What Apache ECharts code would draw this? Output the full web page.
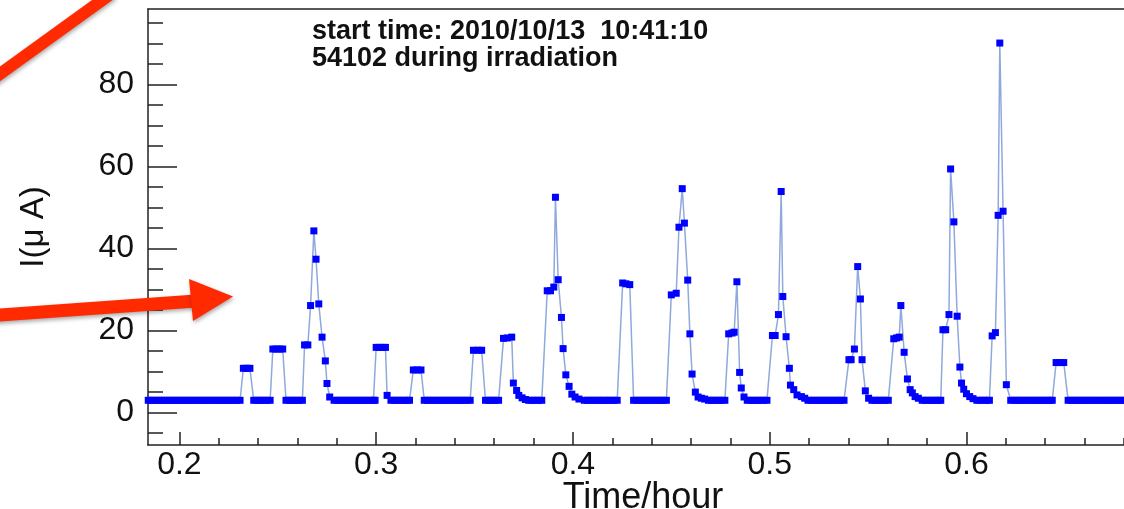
<!DOCTYPE html>
<html>
<head>
<meta charset="utf-8">
<script src="https://cdn.jsdelivr.net/npm/echarts@6.0.0/dist/echarts.min.js"></script>
<style>
  html, body { margin: 0; padding: 0; background: #fff; }
  #main { width: 1124px; height: 509px; }
</style>
</head>
<body>
<div id="main"></div>
<script>
// samples: [time in seconds, current in uA]
const samples = [
  // baseline
  [663,3],[669,3],[675,3],[681,3],[687,3],[693,3],[699,3],[705,3],[711,3],[717,3],
  [723,3],[729,3],[735,3],[741,3],[747,3],[753,3],[759,3],[765,3],[771,3],[777,3],
  [783,3],[789,3],[795,3],[801,3],[807,3],[813,3],[819,3],[825,3],[831,3],
  [837,10.8],[843,10.8],[849,10.8],
  [856,3],[862,3],[868,3],[874,3],[880,3],[886,3],
  [891,15.5],[897,15.5],[903,15.5],[909,15.5],
  [915,3],[921,3],[927,3],[933,3],[939,3],[945,3],
  [949,16.5],[955,16.5],[960,26.1],[966,44.3],[970,37.4],[975,26.5],[981,18.4],[987,12.6],[990,7.1],[995,3.8],
  [1003,3],[1009,3],[1015,3],[1021,3],[1027,3],[1033,3],[1039,3],[1045,3],[1051,3],[1057,3],
  [1063,3],[1069,3],[1075,3],[1078,3],
  [1080,15.9],[1086,15.9],[1092,15.9],[1097,15.9],[1100,4.2],
  [1107,3],[1113,3],[1119,3],[1125,3],[1131,3],[1137,3],[1141,3],
  [1148,10.4],[1155,10.4],[1162,10.4],
  [1168,3],[1174,3],[1180,3],[1186,3],[1192,3],[1198,3],[1204,3],[1210,3],[1216,3],[1222,3],
  [1228,3],[1234,3],[1240,3],[1246,3],[1252,3],
  [1258,15.2],[1266,15.2],[1273,15.2],
  [1280,3],[1286,3],[1292,3],[1298,3],[1304,3],
  [1313,18.1],[1320,18.2],[1328,18.4],[1331,7.2],[1337,5.4],[1341,4.2],[1347,3.6],[1353,3.2],
  [1359,3],[1365,3],[1371,3],[1377,3],[1383,3],
  [1393,29.7],[1399,29.7],[1405,30.6],[1408,52.5],[1413,32.4],[1419,23.2],[1422,15.6],[1427,9.2],
  [1433,6.4],[1438,4.5],[1444,3.8],[1451,3.3],
  [1461,3],[1467,3],[1473,3],[1479,3],[1485,3],[1491,3],[1497,3],[1503,3],[1509,3],[1515,3],[1521,3],
  [1531,31.6],[1537,31.4],[1544,31.2],
  [1551,3],[1557,3],[1563,3],[1569,3],[1575,3],[1581,3],[1587,3],[1593,3],[1599,3],[1605,3],[1611,3],
  [1620,28.7],[1629,29.1],[1634,45.2],[1640,54.6],[1644,46.2],[1650,32.3],[1654,19.2],[1658,9.4],
  [1664,5.0],[1669,3.8],[1675,3.5],[1681,3.3],
  [1688,3],[1694,3],[1700,3],[1706,3],[1712,3],[1718,3],
  [1725,19.2],[1731,19.4],[1735,19.6],[1740,31.9],[1745,9.8],[1748,6.0],[1753,3.8],
  [1759,3],[1765,3],[1771,3],[1777,3],[1783,3],[1789,3],[1795,3],
  [1805,18.8],[1810,18.8],[1816,23.9],[1821,53.9],[1824,28.3],[1830,18.5],[1836,10.8],[1838,6.7],
  [1844,5.6],[1850,4.3],[1858,3.9],[1864,3.5],
  [1870,3],[1876,3],[1882,3],[1888,3],[1894,3],[1900,3],[1906,3],[1912,3],[1918,3],[1924,3],[1930,3],[1936,3],
  [1945,12.9],[1949,12.9],[1955,15.5],[1961,35.6],[1966,27.7],[1969,12.9],[1975,5.3],[1981,3.5],
  [1987,3],[1993,3],[1999,3],[2005,3],[2011,3],[2017,3],
  [2027,18.0],[2032,18.2],[2037,18.4],[2040,26.1],[2046,14.7],[2052,8.2],[2057,5.6],[2061,4.8],[2066,3.9],[2072,3.5],
  [2079,3],[2085,3],[2091,3],[2097,3],[2103,3],[2109,3],[2113,3],
  [2117,20.2],[2122,20.2],[2128,23.9],[2131,59.4],[2137,46.5],[2143,23.5],[2148,11.1],[2151,7.2],
  [2155,5.7],[2160,4.6],[2166,3.9],[2172,3.4],
  [2179,3],[2185,3],[2191,3],[2197,3],[2202,3],
  [2207,18.7],[2213,19.5],[2218,48.1],[2221,90.1],[2227,49.1],[2233,6.8],
  [2241,3],[2247,3],[2253,3],[2259,3],[2265,3],[2271,3],[2277,3],[2283,3],[2289,3],[2295,3],
  [2301,3],[2307,3],[2313,3],[2317,3],
  [2324,12.2],[2331,12.2],[2338,12.2],
  [2346,3],[2352,3],[2358,3],[2364,3],[2370,3],[2376,3],[2382,3],[2388,3],[2394,3],[2400,3],
  [2406,3],[2412,3],[2418,3],[2424,3],[2430,3],[2436,3],[2442,3],[2448,3]
];

// tick positions
const xMajorTicks = [0.2, 0.3, 0.4, 0.5, 0.6];
const xMinorTicks = [0.22, 0.24, 0.26, 0.28, 0.32, 0.34, 0.36, 0.38, 0.42, 0.44, 0.46, 0.48,
                     0.52, 0.54, 0.56, 0.58, 0.62, 0.64, 0.66, 0.68];
const yMajorTicks = [0, 20, 40, 60, 80];
const yMinorTicks = [-5, 5, 10, 15, 25, 30, 35, 45, 50, 55, 65, 70, 75, 85, 90, 95];

const titleLines = ["start time: 2010/10/13  10:41:10", "54102 during irradiation"];

const font = "Liberation Sans";
const xMin = 0.18404, xMax = 0.68007;
const yMin = -7.9, yMax = 98.4;
const axisColor = "#222";
const red = "#ff2a00";

// seconds -> hours
const seriesData = samples.map((d) => [d[0] / 3600, d[1]]);

const myChart = echarts.init(document.getElementById("main"));

const option = {
  animation: false,
  backgroundColor: "#fff",
  title: {
    text: titleLines.join("\n"),
    left: 312,
    top: 18,
    padding: 0,
    textStyle: {
      fontFamily: font,
      fontSize: 27,
      fontWeight: "bold",
      color: "#111",
      lineHeight: 27,
    },
  },
  grid: {
    left: 148,
    right: 0,
    top: 9,
    bottom: 64,
    outerBoundsMode: "none",
  },
  xAxis: [
    {
      type: "value",
      min: xMin,
      max: xMax,
      position: "bottom",
      axisLine: { onZero: false, lineStyle: { color: axisColor, width: 1.5 } },
      axisTick: {
        inside: true,
        length: 13,
        customValues: xMajorTicks,
        lineStyle: { color: axisColor, width: 1.5 },
      },
      axisLabel: {
        customValues: xMajorTicks,
        formatter: (v) => v.toFixed(1),
        fontFamily: font,
        fontSize: 32,
        color: "#111",
        margin: 4,
      },
      splitLine: { show: false },
      name: "Time/hour",
      nameLocation: "middle",
      nameGap: 35,
      nameMoveOverlap: false,
      nameTextStyle: {
        fontFamily: font,
        fontSize: 36,
        color: "#111",
        padding: [0, 0, 0, 14],
      },
    },
    {
      // minor ticks
      type: "value",
      min: xMin,
      max: xMax,
      position: "bottom",
      axisLine: { show: false, onZero: false },
      axisTick: {
        inside: true,
        length: 7,
        customValues: xMinorTicks,
        lineStyle: { color: axisColor, width: 1.5 },
      },
      axisLabel: { show: false },
      splitLine: { show: false },
    },
    {
      // top frame line
      type: "value",
      min: xMin,
      max: xMax,
      position: "top",
      axisLine: { onZero: false, lineStyle: { color: axisColor, width: 1.5 } },
      axisTick: { show: false },
      axisLabel: { show: false },
      splitLine: { show: false },
    },
  ],
  yAxis: [
    {
      type: "value",
      min: yMin,
      max: yMax,
      position: "left",
      axisLine: { show: true, onZero: false, lineStyle: { color: axisColor, width: 1.5 } },
      axisTick: {
        inside: true,
        length: 29,
        customValues: yMajorTicks,
        lineStyle: { color: axisColor, width: 1.5 },
      },
      axisLabel: {
        customValues: yMajorTicks,
        fontFamily: font,
        fontSize: 32,
        color: "#111",
        margin: 14,
      },
      splitLine: { show: false },
      name: "I(μ A)",
      nameLocation: "middle",
      nameGap: 98,
      nameMoveOverlap: false,
      nameRotate: 90,
      nameTextStyle: { fontFamily: font, fontSize: 33, color: "#111" },
    },
    {
      // minor ticks
      type: "value",
      min: yMin,
      max: yMax,
      position: "left",
      axisLine: { show: false, onZero: false },
      axisTick: {
        inside: true,
        length: 15,
        customValues: yMinorTicks,
        lineStyle: { color: axisColor, width: 1.5 },
      },
      axisLabel: { show: false },
      splitLine: { show: false },
    },
  ],
  series: [
    {
      name: "I",
      type: "line",
      xAxisIndex: 0,
      yAxisIndex: 0,
      data: seriesData,
      symbol: "rect",
      symbolSize: 7,
      showSymbol: true,
      itemStyle: { color: "#0000ff" },
      lineStyle: { color: "#8fa9dc", width: 1.5 },
      emphasis: { disabled: true },
      z: 3,
    },
  ],
  graphic: [
    {
      type: "line",
      z: 100,
      shape: { x1: -10, y1: 81, x2: 112, y2: -7 },
      style: {
        stroke: red,
        lineWidth: 12,
        shadowBlur: 4,
        shadowColor: "rgba(0,0,0,0.35)",
        shadowOffsetX: 1,
        shadowOffsetY: 2,
      },
    },
    {
      type: "line",
      z: 100,
      shape: { x1: -5, y1: 315.4, x2: 196, y2: 301 },
      style: {
        stroke: red,
        lineWidth: 13,
        shadowBlur: 4,
        shadowColor: "rgba(0,0,0,0.35)",
        shadowOffsetX: 1,
        shadowOffsetY: 2,
      },
    },
    {
      type: "polygon",
      z: 101,
      shape: { points: [[189, 279], [233, 296.5], [193, 321]] },
      style: {
        fill: red,
        shadowBlur: 4,
        shadowColor: "rgba(0,0,0,0.35)",
        shadowOffsetX: 1,
        shadowOffsetY: 2,
      },
    },
  ],
};

option && myChart.setOption(option);
</script>
</body>
</html>
